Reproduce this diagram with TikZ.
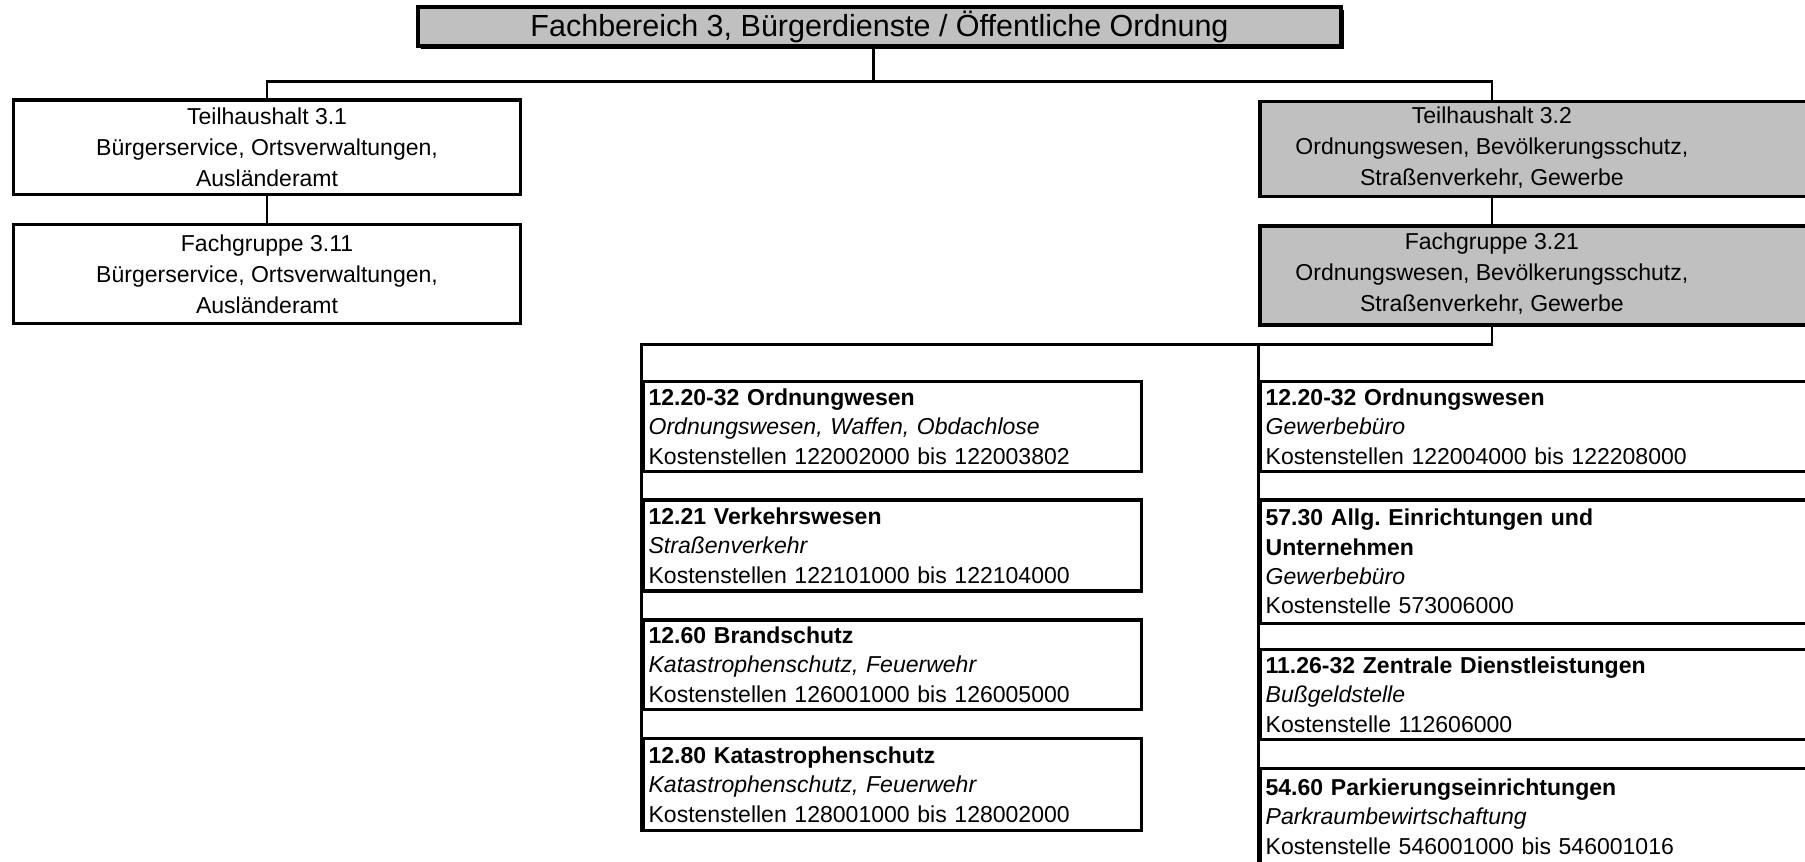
\documentclass[tikz,border=0pt]{standalone}
\usepackage{fontspec}
\setmainfont{Liberation Sans}
\usetikzlibrary{shadows}
\frenchspacing
\definecolor{boxgray}{RGB}{192,192,192}
\tikzset{
  conn/.style={line width=2.4pt},
  frame/.style={draw, line width=2.9pt, rectangle, inner sep=0pt},
  headbox/.style={frame, fill=boxgray, font=\fontsize{26.5}{30}\selectfont,
    drop shadow={shadow xshift=2.5pt, shadow yshift=-2.5pt, fill=black, opacity=1}},
  unitbox/.style={frame, minimum width=440pt, align=center,
    font=\fontsize{20}{27}\selectfont},
  wideframe/.style={frame, fill=boxgray, minimum width=600pt, anchor=north west},
  unittext/.style={align=center, inner sep=0pt, font=\fontsize{20}{27}\selectfont},
  itembox/.style={frame, anchor=north west, align=left, inner xsep=5pt,
    font=\fontsize{20}{25.5}\selectfont},
  leftitem/.style={itembox, minimum width=433pt, text width=423pt},
  rightitem/.style={itembox, minimum width=600pt, text width=590pt},
}
\begin{document}
\begin{tikzpicture}[x=1pt, y=-1pt]
\useasboundingbox (0,0) rectangle (1568,748);
\clip (0,0) rectangle (1568,748);
\fill[white] (0,0) rectangle (1568,748);

% department
\node[headbox, minimum width=802pt, minimum height=34pt] (fb) at (764,23)
  {Fachbereich 3, Bürgerdienste / Öffentliche Ordnung};

% budget sections and groups
\node[unitbox, minimum height=82pt] (th31) at (232,128)
  {Teilhaushalt 3.1\\Bürgerservice, Ortsverwaltungen,\\Ausländeramt};
\node[unitbox, minimum height=86pt] (fg311) at (232,238)
  {Fachgruppe 3.11\\Bürgerservice, Ortsverwaltungen,\\Ausländeramt};

\node[wideframe, minimum height=82pt] (th32) at (1093,87) {};
\node[unittext] (th32t) at (1296,128)
  {Teilhaushalt 3.2\\Ordnungswesen, Bevölkerungsschutz,\\Straßenverkehr, Gewerbe};
\node[wideframe, minimum height=86pt] (fg321) at (1093,195) {};
\node[unittext] (fg321t) at (1296,238)
  {Fachgruppe 3.21\\Ordnungswesen, Bevölkerungsschutz,\\Straßenverkehr, Gewerbe};

% cost units, left column
\node[leftitem, minimum height=78pt] (l1) at (557,330)
  {\textbf{12.20-32 Ordnungwesen}\\\textit{Ordnungswesen, Waffen, Obdachlose}\\Kostenstellen 122002000 bis 122003802};
\node[leftitem, minimum height=79pt] (l2) at (557,433)
  {\textbf{12.21 Verkehrswesen}\\\textit{Straßenverkehr}\\Kostenstellen 122101000 bis 122104000};
\node[leftitem, minimum height=78pt] (l3) at (557,537)
  {\textbf{12.60 Brandschutz}\\\textit{Katastrophenschutz, Feuerwehr}\\Kostenstellen 126001000 bis 126005000};
\node[leftitem, minimum height=80pt] (l4) at (557,640)
  {\textbf{12.80 Katastrophenschutz}\\\textit{Katastrophenschutz, Feuerwehr}\\Kostenstellen 128001000 bis 128002000};

% cost units, right column
\node[rightitem, minimum height=78pt] (r1) at (1093,330)
  {\textbf{12.20-32 Ordnungswesen}\\\textit{Gewerbebüro}\\Kostenstellen 122004000 bis 122208000};
\node[rightitem, minimum height=107pt] (r2) at (1093,433)
  {\textbf{57.30 Allg. Einrichtungen und}\\\textbf{Unternehmen}\\\textit{Gewerbebüro}\\Kostenstelle 573006000};
\node[rightitem, minimum height=78pt] (r3) at (1093,563)
  {\textbf{11.26-32 Zentrale Dienstleistungen}\\\textit{Bußgeldstelle}\\Kostenstelle 112606000};
\node[rightitem, minimum height=84pt] (r4) at (1093,666)
  {\textbf{54.60 Parkierungseinrichtungen}\\\textit{Parkraumbewirtschaftung}\\Kostenstelle 546001000 bis 546001016};

% connectors
\coordinate (j0) at (759,71);
\coordinate (j1) at (1296,299);
\coordinate (rend) at (1093,760);
\draw[conn] (fb.south -| j0) -- (j0);
\draw[conn] (th31.north) |- (j0) -| (th32.north -| th32t);
\draw[conn] (th31.south) -- (fg311.north);
\draw[conn] (th32.south -| th32t) -- (fg321.north -| th32t);
\draw[conn] (fg321.south -| j1) -- (j1) -| (l4.south west);
\draw[conn] (j1 -| r1.north west) -- (rend);
\end{tikzpicture}
\end{document}
